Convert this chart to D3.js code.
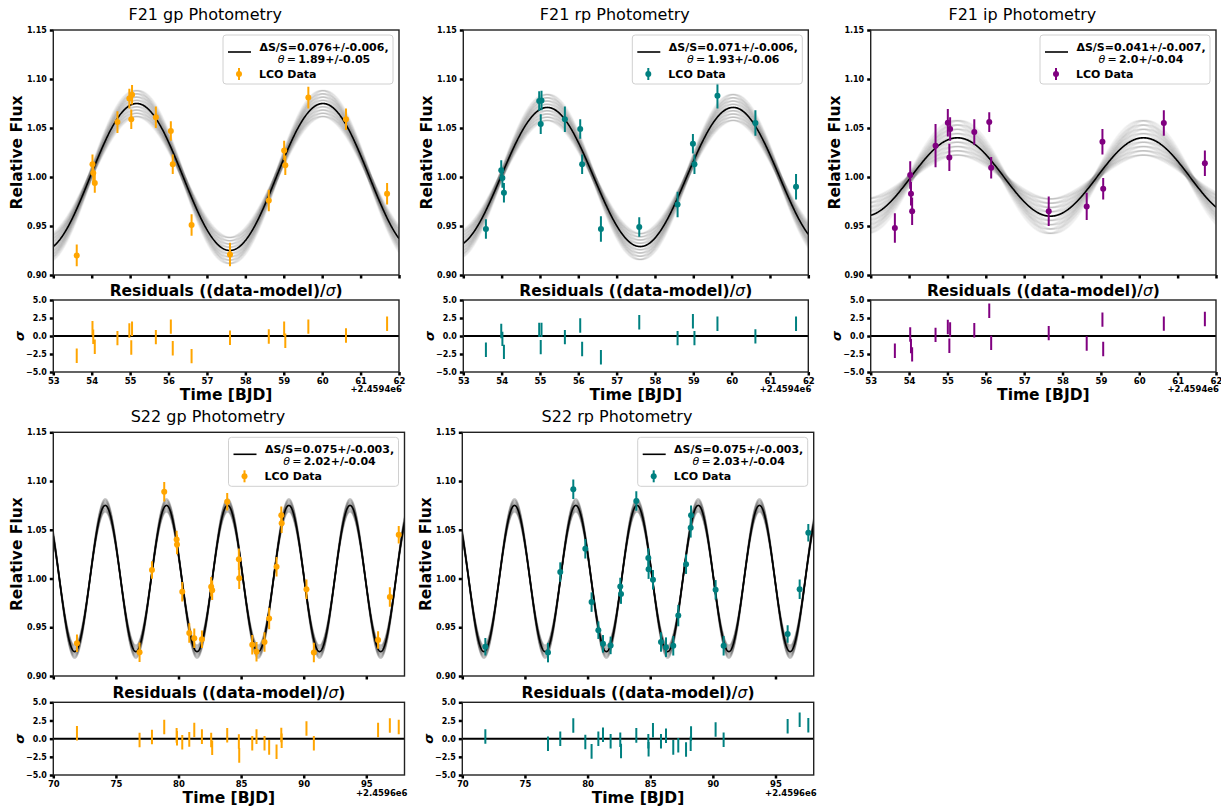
<!DOCTYPE html>
<html><head><meta charset="utf-8">
<script src="https://cdn.jsdelivr.net/npm/d3@7"></script>
<style>
body{margin:0;background:#fff}
svg{display:block}
text{font-family:"DejaVu Sans",sans-serif}
</style></head><body>
<svg id="c" width="1221" height="811"></svg>
<script>
// ---------------- DATA ----------------
// Time values are shown relative to the axis offsets below
const f21Offset = "+2.4594e6";
const s22Offset = "+2.4596e6";
const f21XTicks = [53,54,55,56,57,58,59,60,61,62];
const s22XTicks = [70,75,80,85,90,95];
const mainYTicks = [0.90,0.95,1.00,1.05,1.10,1.15];
const residYTicks = [-5,-2.5,0,2.5,5];

// F21 gp
const f21gpTime  = [53.61,54.02,54.04,54.08,54.67,54.98,55.03,55.05,55.67,56.06,56.11,56.60,57.60,58.61,59.01,59.04,59.64,60.62,61.69];
const f21gpFlux  = [0.920,1.013,1.004,0.994,1.056,1.080,1.059,1.084,1.061,1.047,1.013,0.951,0.921,0.976,1.027,1.012,1.081,1.059,0.983];
const f21gpErr   = [0.011,0.010,0.010,0.010,0.011,0.010,0.010,0.010,0.011,0.010,0.010,0.011,0.012,0.011,0.010,0.010,0.011,0.011,0.011];
const f21gpResid = [-2.74,1.1,-0.1,-1.5,-0.3,0.76,-1.6,1.0,-0.16,1.3,-1.7,-2.8,-0.25,-0.07,1.0,-0.67,1.3,0.07,1.7];

// F21 rp
const f21rpTime  = [53.59,53.99,54.02,54.06,54.98,55.02,55.04,55.65,56.05,56.10,56.59,57.59,58.59,58.99,59.03,59.63,60.62,61.68];
const f21rpFlux  = [0.947,1.007,0.999,0.984,1.0776,1.054,1.078,1.059,1.049,1.013,0.947,0.949,0.972,1.034,1.013,1.083,1.055,0.990];
const f21rpErr   = [0.010,0.010,0.010,0.010,0.010,0.010,0.010,0.013,0.010,0.010,0.013,0.010,0.013,0.010,0.010,0.013,0.013,0.013];
const f21rpResid = [-1.9,0.7,-0.4,-2.2,0.85,-1.55,0.85,-0.15,1.45,-1.8,-2.95,1.9,-0.3,2.05,-0.3,1.7,-0.05,1.7];

// F21 ip
const f21ipTime  = [53.63,54.03,54.05,54.08,54.69,55.01,55.05,55.07,55.70,56.09,56.14,57.64,58.63,59.04,59.06,60.64,61.71];
const f21ipFlux  = [0.948,1.002,0.983,0.965,1.032,1.0554,1.020,1.049,1.046,1.056,1.0095,0.965,0.970,1.036,0.988,1.055,1.014];
const f21ipErr   = [0.015,0.014,0.012,0.014,0.022,0.014,0.014,0.012,0.013,0.010,0.011,0.015,0.014,0.013,0.011,0.013,0.013];
const f21ipResid = [-2.05,0.2,-1.4,-2.55,0.15,1.25,-1.35,0.9,0.8,3.5,-0.95,0.4,-1.05,2.27,-1.8,1.72,2.36];

// S22 gp
const s22gpTime  = [71.89,76.89,77.88,78.86,79.85,79.88,80.30,80.86,81.26,81.87,82.61,82.69,83.89,84.82,84.85,85.89,86.23,86.87,87.24,87.83,88.21,88.24,90.22,90.81,95.94,96.88,97.59];
const s22gpFlux  = [0.9335,0.9243,1.0088,1.089,1.040,1.035,0.9865,0.944,0.9387,0.9376,0.9916,0.988,1.0788,1.0197,1.0002,0.932,0.925,0.935,0.959,1.012,1.065,1.0566,0.989,0.924,0.937,0.981,1.045];
const s22gpErr   = [0.009,0.010,0.009,0.010,0.009,0.010,0.010,0.010,0.010,0.009,0.010,0.010,0.009,0.011,0.011,0.010,0.010,0.010,0.011,0.010,0.009,0.010,0.010,0.010,0.009,0.010,0.009];
const s22gpResid = [0.73,-0.2,0.23,1.6,0.45,0.05,-0.5,-0.1,1.2,0.28,-0.18,-1.25,0.46,-0.4,-2.3,-0.64,0.28,-0.64,-1.2,-1.8,0.5,-0.3,1.4,-0.64,1.2,1.8,1.6];

// S22 rp
const s22rpTime  = [71.84,76.84,77.82,78.86,79.82,80.32,80.86,81.23,81.84,82.61,82.67,83.89,84.85,84.87,85.22,85.86,86.26,86.84,87.24,87.86,88.23,88.26,90.22,90.86,95.97,96.93,97.62];
const s22rpFlux  = [0.930,0.924,1.0066,1.0916,1.0305,0.9758,0.947,0.933,0.9314,0.9918,0.984,1.0795,1.021,1.0096,0.9987,0.9349,0.9296,0.931,0.962,1.0147,1.052,1.065,0.9884,0.931,0.943,0.989,1.047];
const s22rpErr   = [0.009,0.010,0.010,0.010,0.010,0.010,0.009,0.009,0.009,0.009,0.010,0.010,0.010,0.010,0.010,0.010,0.010,0.010,0.011,0.010,0.010,0.010,0.010,0.010,0.009,0.010,0.009];
const s22rpResid = [0.3,-0.7,0,1.8,-0.45,-1.75,0,0.55,-0.37,-0.15,-1.7,0.45,-0.37,-1.47,1.15,-0.37,0.4,-1.2,-0.9,-1.5,-0.7,0.7,1.25,-0.15,1.7,2.6,1.85];

// Sinusoidal model parameters (fit)
const modelAmp      = [0.075,0.071,0.040,0.075,0.075];
const modelPeak     = [55.17,55.19,55.26,74.15,74.17];
const modelPeriod   = [4.85,4.85,4.85,4.888,4.888];
const bandAmpSigma  = [0.006,0.006,0.008,0.003,0.003];
const bandShiftSigma= [0.03,0.03,0.05,0.012,0.012];
const bandAmpSteps  = [-2.2,-1.65,-1.1,-0.55,0,0.55,1.1,1.65,2.2];
const bandShiftSteps= [-2,-1.5,-1,-0.5,0,0.5,1,1.5,2];

// Legend labels
const legendDS    = ["0.076+/-0.006","0.071+/-0.006","0.041+/-0.007","0.075+/-0.003","0.075+/-0.003"];
const legendTheta = ["1.89+/-0.05","1.93+/-0.06","2.0+/-0.04","2.02+/-0.04","2.03+/-0.04"];
const titles = ["F21 gp Photometry","F21 rp Photometry","F21 ip Photometry","S22 gp Photometry","S22 rp Photometry"];

const colGp = "#FFA500", colRp = "#008080", colIp = "#800080";

// ---------------- LAYOUT ----------------
const panels = [
  {x0:53.3, x1:399,  mTop:30,    mBot:275, rTop:300,   rBot:372, dom:[53,62],    ticks:f21XTicks, off:f21Offset, offY:19.5, col:colGp, t:f21gpTime, f:f21gpFlux, e:f21gpErr, r:f21gpResid},
  {x0:463.3,x1:808.3,mTop:30,    mBot:275, rTop:300,   rBot:372, dom:[53,62],    ticks:f21XTicks, off:f21Offset, offY:19.5, col:colRp, t:f21rpTime, f:f21rpFlux, e:f21rpErr, r:f21rpResid},
  {x0:870.7,x1:1216, mTop:30,    mBot:275, rTop:300,   rBot:372, dom:[53,62],    ticks:f21XTicks, off:f21Offset, offY:19.5, col:colIp, t:f21ipTime, f:f21ipFlux, e:f21ipErr, r:f21ipResid},
  {x0:53.3, x1:404.5,mTop:432.3, mBot:676, rTop:702.3, rBot:775, dom:[70,98.05], ticks:s22XTicks, off:s22Offset, offY:20.5, col:colGp, t:s22gpTime, f:s22gpFlux, e:s22gpErr, r:s22gpResid},
  {x0:462.3,x1:813.7,mTop:432.3, mBot:676, rTop:702.3, rBot:775, dom:[70,98.05], ticks:s22XTicks, off:s22Offset, offY:20.5, col:colRp, t:s22rpTime, f:s22rpFlux, e:s22rpErr, r:s22rpResid}
];

const svg = d3.select("#c");
const defs = svg.append("defs");

function styleAxis(g, fs){
  g.select(".domain").remove();
  g.selectAll(".tick line").attr("stroke","#000").attr("stroke-width",2.5);
  g.selectAll(".tick text").attr("font-family","DejaVu Sans").attr("font-weight","bold")
    .attr("font-size",fs).attr("fill","#000");
}

panels.forEach((p,i)=>{
  const g = svg.append("g");
  const x = d3.scaleLinear().domain(p.dom).range([p.x0,p.x1]);
  const y = d3.scaleLinear().domain([0.90,1.15]).range([p.mBot,p.mTop]);
  const yr = d3.scaleLinear().domain([-5,5]).range([p.rBot,p.rTop]);

  const cid = "clip"+i, rid = "rclip"+i;
  defs.append("clipPath").attr("id",cid).append("rect")
    .attr("x",p.x0).attr("y",p.mTop).attr("width",p.x1-p.x0).attr("height",p.mBot-p.mTop);
  defs.append("clipPath").attr("id",rid).append("rect")
    .attr("x",p.x0).attr("y",p.rTop).attr("width",p.x1-p.x0).attr("height",p.rBot-p.rTop);

  // ---------- main panel ----------
  const ts = d3.range(p.dom[0], p.dom[1]+0.01, 0.01);
  const model = (t,A,tp)=> 1 + A*Math.cos(2*Math.PI*(t-tp)/modelPeriod[i]);
  const plot = g.append("g").attr("clip-path",`url(#${cid})`);
  const band = plot.append("g");
  bandAmpSteps.forEach(a=>{
    bandShiftSteps.forEach(s=>{
      const A = modelAmp[i] + a*bandAmpSigma[i];
      const tp = modelPeak[i] + s*bandShiftSigma[i];
      band.append("path")
        .attr("d", d3.line().x(t=>x(t)).y(t=>y(model(t,A,tp)))(ts))
        .attr("fill","none").attr("stroke","#505050").attr("stroke-width",1.5)
        .attr("stroke-opacity",0.045);
    });
  });
  plot.append("path")
    .attr("d", d3.line().x(t=>x(t)).y(t=>y(model(t,modelAmp[i],modelPeak[i])))(ts))
    .attr("fill","none").attr("stroke","#000").attr("stroke-width",1.6);

  const pts = p.t.map((t,k)=>({t, f:p.f[k], e:p.e[k], r:p.r[k]}));
  plot.selectAll(".eb").data(pts).join("line").attr("class","eb")
    .attr("x1",d=>x(d.t)).attr("x2",d=>x(d.t))
    .attr("y1",d=>y(d.f-d.e)).attr("y2",d=>y(d.f+d.e))
    .attr("stroke",p.col).attr("stroke-width",2);
  plot.selectAll(".pt").data(pts).join("circle").attr("class","pt")
    .attr("cx",d=>x(d.t)).attr("cy",d=>y(d.f)).attr("r",3).attr("fill",p.col);

  // axes main
  const ay = g.append("g").attr("transform",`translate(${p.x0},0)`)
    .call(d3.axisLeft(y).tickValues(mainYTicks).tickFormat(d3.format(".2f")).tickSize(3.5).tickPadding(3));
  styleAxis(ay, 8);
  const ax = g.append("g").attr("transform",`translate(0,${p.mBot})`)
    .call(d3.axisBottom(x).tickValues(p.ticks).tickFormat("").tickSize(3.5));
  styleAxis(ax, 8);
  g.append("rect").attr("x",p.x0).attr("y",p.mTop).attr("width",p.x1-p.x0).attr("height",p.mBot-p.mTop)
    .attr("fill","none").attr("stroke","#222").attr("stroke-width",1.4);

  // title
  g.append("text").attr("x",(p.x0+p.x1)/2-21).attr("y",p.mTop-10).attr("text-anchor","middle")
    .attr("font-size",16).attr("fill","#000").text(titles[i]);
  // y label
  const ymid = (p.mTop+p.mBot)/2;
  g.append("text").attr("transform",`translate(${p.x0-36},${ymid}) rotate(-90)`)
    .attr("text-anchor","middle").attr("dominant-baseline","central")
    .attr("font-size",15.5).attr("font-weight","bold").text("Relative Flux");

  // legend
  const bx = p.x1-6-170, by = p.mTop+5;
  const lg = g.append("g");
  lg.append("rect").attr("x",bx).attr("y",by).attr("width",170).attr("height",49).attr("rx",3)
    .attr("fill","#fff").attr("fill-opacity",0.85).attr("stroke","#d0d0d0").attr("stroke-width",1);
  lg.append("line").attr("x1",bx+5).attr("x2",bx+28).attr("y1",by+17).attr("y2",by+17)
    .attr("stroke","#000").attr("stroke-width",1.6);
  lg.append("text").attr("x",bx+101).attr("y",by+15.5).attr("text-anchor","middle")
    .attr("font-size",11).attr("font-weight","bold").text("\u0394S/S="+legendDS[i]+",");
  const t2 = lg.append("text").attr("x",bx+101).attr("y",by+27.5).attr("text-anchor","middle")
    .attr("font-size",11).attr("font-weight","bold");
  t2.append("tspan").attr("font-style","italic").attr("font-weight","normal").text("\u03b8");
  t2.append("tspan").attr("font-weight","normal").text("\u2009=\u2009");
  t2.append("tspan").text(legendTheta[i]);
  lg.append("line").attr("x1",bx+16).attr("x2",bx+16).attr("y1",by+33).attr("y2",by+45)
    .attr("stroke",p.col).attr("stroke-width",2);
  lg.append("circle").attr("cx",bx+16).attr("cy",by+39).attr("r",3).attr("fill",p.col);
  lg.append("text").attr("x",bx+36).attr("y",by+43).attr("font-size",11).attr("font-weight","bold").text("LCO Data");

  // ---------- residual panel ----------
  const rp = g.append("g").attr("clip-path",`url(#${rid})`);
  rp.append("line").attr("x1",p.x0).attr("x2",p.x1).attr("y1",yr(0)).attr("y2",yr(0))
    .attr("stroke","#000").attr("stroke-width",2);
  rp.selectAll(".rb").data(pts).join("line").attr("class","rb")
    .attr("x1",d=>x(d.t)).attr("x2",d=>x(d.t))
    .attr("y1",d=>yr(d.r-1)).attr("y2",d=>yr(d.r+1))
    .attr("stroke",p.col).attr("stroke-width",2);

  const ary = g.append("g").attr("transform",`translate(${p.x0},0)`)
    .call(d3.axisLeft(yr).tickValues(residYTicks).tickFormat(d3.format(".1f")).tickSize(3.5).tickPadding(3));
  styleAxis(ary, 8);
  const arx = g.append("g").attr("transform",`translate(0,${p.rBot})`)
    .call(d3.axisBottom(x).tickValues(p.ticks).tickFormat(d3.format("d")).tickSize(3.5).tickPadding(2));
  styleAxis(arx, 8.5);
  g.append("rect").attr("x",p.x0).attr("y",p.rTop).attr("width",p.x1-p.x0).attr("height",p.rBot-p.rTop)
    .attr("fill","none").attr("stroke","#222").attr("stroke-width",1.4);

  const rt = g.append("text").attr("x",(p.x0+p.x1)/2).attr("y",p.rTop-4.5).attr("text-anchor","middle")
    .attr("font-size",15.5).attr("font-weight","bold");
  rt.append("tspan").text("Residuals ((data-model)/");
  rt.append("tspan").attr("font-style","italic").attr("font-weight","normal").text("\u03c3");
  rt.append("tspan").text(")");

  g.append("text").attr("transform",`translate(${p.x0-34},${(p.rTop+p.rBot)/2}) rotate(-90)`)
    .attr("text-anchor","middle").attr("dominant-baseline","central")
    .attr("font-size",13).attr("font-weight","bold").attr("font-style","italic").text("\u03c3");

  g.append("text").attr("x",(p.x0+p.x1)/2).attr("y",p.rBot+28).attr("text-anchor","middle")
    .attr("font-size",15.5).attr("font-weight","bold").text("Time [BJD]");
  g.append("text").attr("x",p.x1+3).attr("y",p.rBot+p.offY).attr("text-anchor","end")
    .attr("font-size",8.5).attr("font-weight","bold").text(p.off);
});
</script>
</body></html>
